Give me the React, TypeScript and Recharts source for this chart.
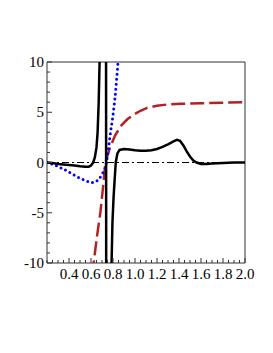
import React from "react";
import { LineChart, Line, XAxis, YAxis, ReferenceLine, ReferenceArea } from "recharts";

// x ticks every 0.05, labels on every 0.2
const xTicks = [
  0.2, 0.25, 0.3, 0.35, 0.4, 0.45, 0.5, 0.55, 0.6, 0.65, 0.7, 0.75, 0.8, 0.85, 0.9, 0.95,
  1.0, 1.05, 1.1, 1.15, 1.2, 1.25, 1.3, 1.35, 1.4, 1.45, 1.5, 1.55, 1.6, 1.65, 1.7, 1.75,
  1.8, 1.85, 1.9, 1.95, 2.0,
];
const xLabels = [0.4, 0.6, 0.8, 1.0, 1.2, 1.4, 1.6, 1.8, 2.0];
const yTicks = [-10, -9, -8, -7, -6, -5, -4, -3, -2, -1, 0, 1, 2, 3, 4, 5, 6, 7, 8, 9, 10];
const yLabels = [-10, -5, 0, 5, 10];

// black solid curve (with poles between 0.68 and 0.79)
const blackX = [
  0.2, 0.25, 0.3, 0.35, 0.4, 0.45, 0.5, 0.55, 0.58, 0.6, 0.62, 0.635, 0.65, 0.66, 0.67, 0.68,
  0.69, 0.72, 0.735, 0.74, 0.78, 0.787, 0.795, 0.805, 0.815, 0.825, 0.84, 0.86, 0.9, 0.95,
  1.0, 1.05, 1.1, 1.15, 1.2, 1.25, 1.3, 1.35, 1.38, 1.41, 1.44, 1.47, 1.5, 1.53, 1.56, 1.6,
  1.65, 1.7, 1.8, 1.9, 2.0,
];
const blackY = [
  0.0, -0.05, -0.15, -0.2, -0.25, -0.3, -0.38, -0.42, -0.42, -0.3, 0.0, 0.5, 1.5, 3, 6, 11,
  20, 40, 40, -40, -40, -10, -6, -3.5, -1.7, 0, 0.9, 1.25, 1.35, 1.3,
  1.22, 1.17, 1.18, 1.22, 1.35, 1.55, 1.8, 2.1, 2.25, 2.15, 1.7, 1.1, 0.6, 0.2, 0.0, -0.15,
  -0.15, -0.1, -0.05, 0, 0,
];

// blue dotted curve
const blueX = [0.2, 0.225, 0.29, 0.35, 0.4, 0.47, 0.55, 0.6, 0.64, 0.67, 0.7, 0.73, 0.745, 0.76, 0.78, 0.8, 0.82, 0.84, 0.86];
const blueY = [0, -0.07, -0.35, -0.65, -0.95, -1.4, -1.8, -2.0, -1.95, -1.7, -1.2, -0.55, 0.3, 1.5, 3.2, 4.7, 6.6, 9.2, 12];

// red dashed curve
const redX = [0.6, 0.624, 0.655, 0.685, 0.71, 0.731, 0.75, 0.777, 0.82, 0.869, 0.93, 0.99, 1.05, 1.11, 1.2, 1.3, 1.42, 1.6, 1.8, 2.0];
const redY = [-13, -10, -7.3, -5, -2.4, 0, 0.7, 1.6, 2.7, 3.6, 4.3, 4.77, 5.15, 5.44, 5.65, 5.78, 5.84, 5.9, 5.95, 6.0];

const zip = (xs: number[], ys: number[]) => xs.map((x, i) => ({ x, y: ys[i] }));
const black = zip(blackX, blackY);
const blue = zip(blueX, blueY);
const red = zip(redX, redY);

const font = "'Liberation Serif', 'DejaVu Serif', serif";

const isLabel = (v: number, list: number[]) => list.some((l) => Math.abs(l - v) < 1e-9);

function XTick(props: any) {
  const { x, y, payload } = props;
  const major = isLabel(payload.value, xLabels);
  return (
    <g>
      <line x1={x} x2={x} y1={y} y2={y - (major ? 5 : 3)} stroke="#333" strokeWidth={1} />
      {major && (
        <text x={x} y={y + 16} textAnchor="middle" fontFamily={font} fontSize={15} fill="#000">
          {payload.value.toFixed(1)}
        </text>
      )}
    </g>
  );
}

function YTick(props: any) {
  const { x, y, payload } = props;
  const major = isLabel(payload.value, yLabels);
  return (
    <g>
      <line x1={x} x2={x + (major ? 5 : 3)} y1={y} y2={y} stroke="#333" strokeWidth={1} />
      {major && (
        <text x={x - 3} y={y + 5} textAnchor="end" fontFamily={font} fontSize={15} fill="#000">
          {payload.value}
        </text>
      )}
    </g>
  );
}

export default function App() {
  return (
    <div style={{ position: "absolute", left: 0, top: 0, background: "#fff" }}>
      <LineChart width={273} height={353} margin={{ top: 62, right: 28, left: 0, bottom: 60 }}>
        <XAxis
          dataKey="x"
          type="number"
          domain={[0.2, 2.0]}
          ticks={xTicks}
          interval={0}
          allowDataOverflow
          height={30}
          axisLine={false}
          tickLine={false}
          tickSize={0}
          tickMargin={0}
          tick={(p: any) => <XTick {...p} />}
        />
        <YAxis
          type="number"
          domain={[-10, 10]}
          ticks={yTicks}
          interval={0}
          allowDataOverflow
          width={47}
          axisLine={false}
          tickLine={false}
          tickSize={0}
          tickMargin={0}
          tick={(p: any) => <YTick {...p} />}
        />
        <ReferenceArea x1={0.2} x2={2.0} y1={-10} y2={10} fill="none" stroke="#333" strokeWidth={1} />
        <ReferenceLine y={0} stroke="#000" strokeWidth={1} strokeDasharray="7 3 2 3" />
        <Line data={red} dataKey="y" type="linear" stroke="#b22222" strokeWidth={2.5} strokeDasharray="14 5" dot={false} isAnimationActive={false} />
        <Line data={blue} dataKey="y" type="linear" stroke="#0000ff" strokeWidth={3} strokeDasharray="0 5" strokeLinecap="round" dot={false} isAnimationActive={false} />
        <Line data={black} dataKey="y" type="linear" stroke="#000" strokeWidth={2.5} dot={false} isAnimationActive={false} />
      </LineChart>
    </div>
  );
}
